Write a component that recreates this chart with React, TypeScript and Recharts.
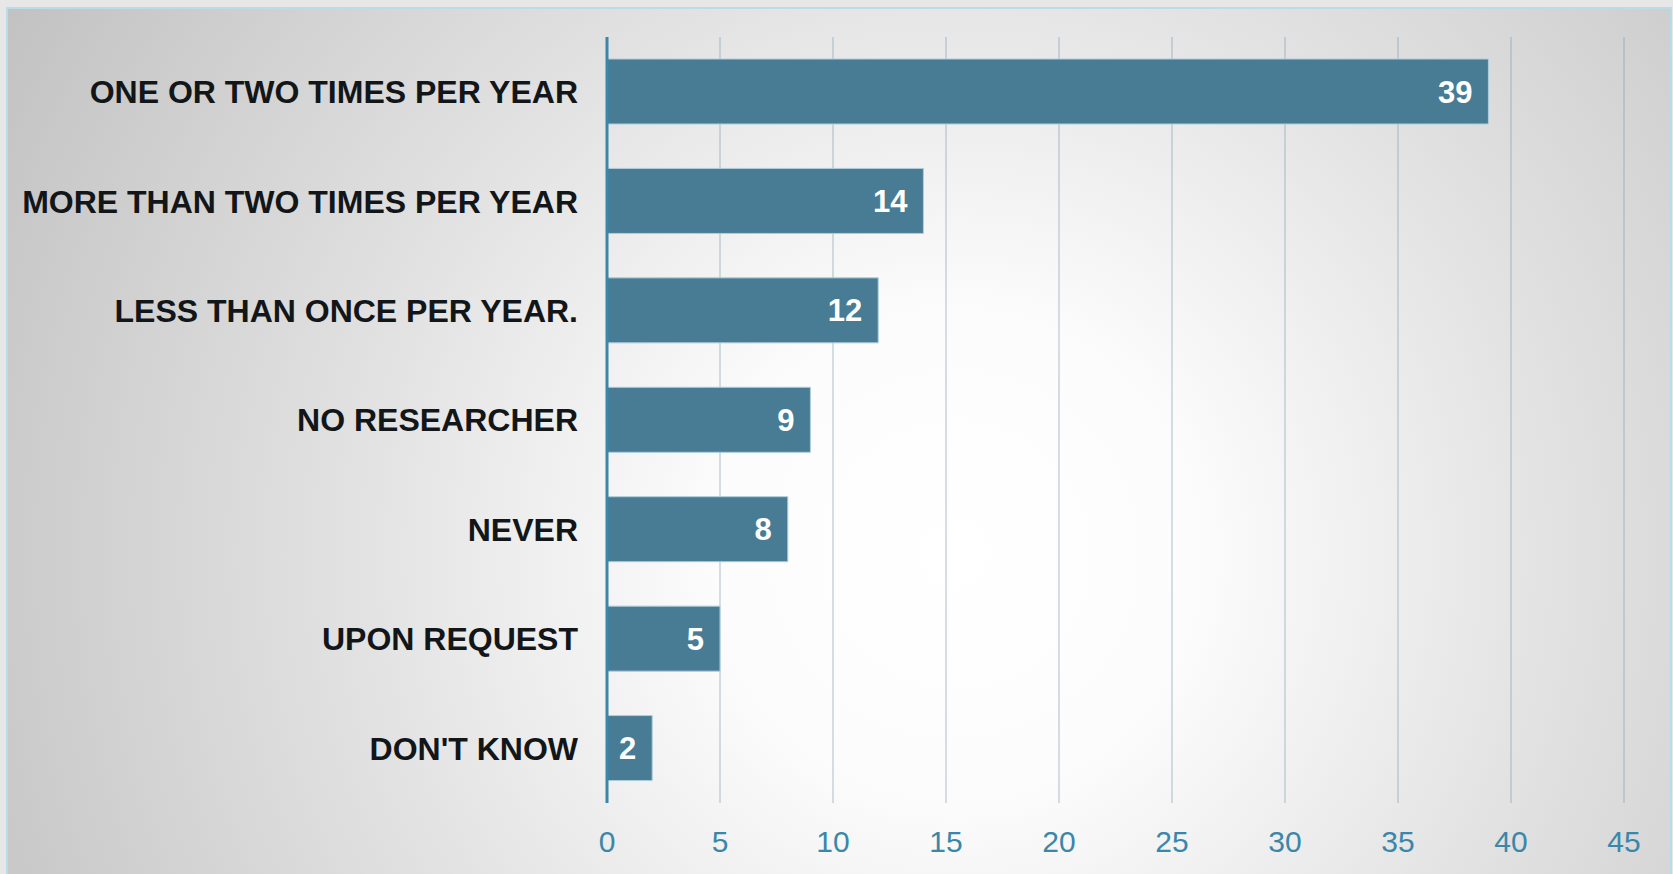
import { BarChart, Bar, XAxis, YAxis, CartesianGrid, LabelList } from "recharts";

const categories = [
  "ONE OR TWO TIMES PER YEAR",
  "MORE THAN TWO TIMES PER YEAR",
  "LESS THAN ONCE PER YEAR.",
  "NO RESEARCHER",
  "NEVER",
  "UPON REQUEST",
  "DON'T KNOW",
];
const counts = [39, 14, 12, 9, 8, 5, 2];
const xTicks = [0, 5, 10, 15, 20, 25, 30, 35, 40, 45];

const data = categories.map((name, i) => ({ name, count: counts[i] }));

export default function App() {
  return (
    <div
      style={{
        position: "absolute",
        left: 0,
        top: 0,
        width: 1673,
        height: 874,
        overflow: "hidden",
        background: "#e7e7e7",
        fontFamily: "'Liberation Sans', Arial, sans-serif",
      }}
    >
      <div
        style={{
          position: "absolute",
          left: 6,
          top: 7,
          width: 1662,
          height: 880,
          border: "2px solid #b8dcea",
          background:
            "radial-gradient(circle farthest-corner at 57% 62%, #ffffff 0%, #fcfcfc 22%, #e2e2e2 55%, #c2c2c2 100%)",
        }}
      />
      <div style={{ position: "absolute", left: 0, top: 0 }}>
        <BarChart
          width={1673}
          height={874}
          data={data}
          layout="vertical"
          margin={{ top: 37, right: 49, bottom: 11, left: 0 }}
        >
          <CartesianGrid
            horizontal={false}
            stroke="#7fa2b4"
            strokeOpacity={0.65}
            strokeWidth={1}
          />
          <XAxis
            type="number"
            domain={[0, 45]}
            ticks={xTicks}
            axisLine={false}
            tickLine={false}
            tickSize={0}
            tickMargin={28}
            height={60}
            tick={{ fill: "#3a87aa", fontSize: 30, fontFamily: "'Liberation Sans', Arial, sans-serif" }}
          />
          <YAxis
            type="category"
            dataKey="name"
            width={607}
            axisLine={{ stroke: "#3b86aa", strokeWidth: 3 }}
            tickLine={false}
            tickSize={0}
            tickMargin={29}
            tick={{
              fill: "#121618",
              fontSize: 32,
              fontWeight: "bold",
              fontFamily: "'Liberation Sans', Arial, sans-serif",
            }}
          />
          <Bar
            dataKey="count"
            fill="#477c94"
            stroke="#aecddc"
            strokeWidth={1}
            barSize={65}
            isAnimationActive={false}
          >
            <LabelList
              dataKey="count"
              position="insideRight"
              offset={16}
              fill="#ffffff"
              fontSize={31}
              fontWeight="bold"
              fontFamily="'Liberation Sans', Arial, sans-serif"
            />
          </Bar>
        </BarChart>
      </div>
    </div>
  );
}
